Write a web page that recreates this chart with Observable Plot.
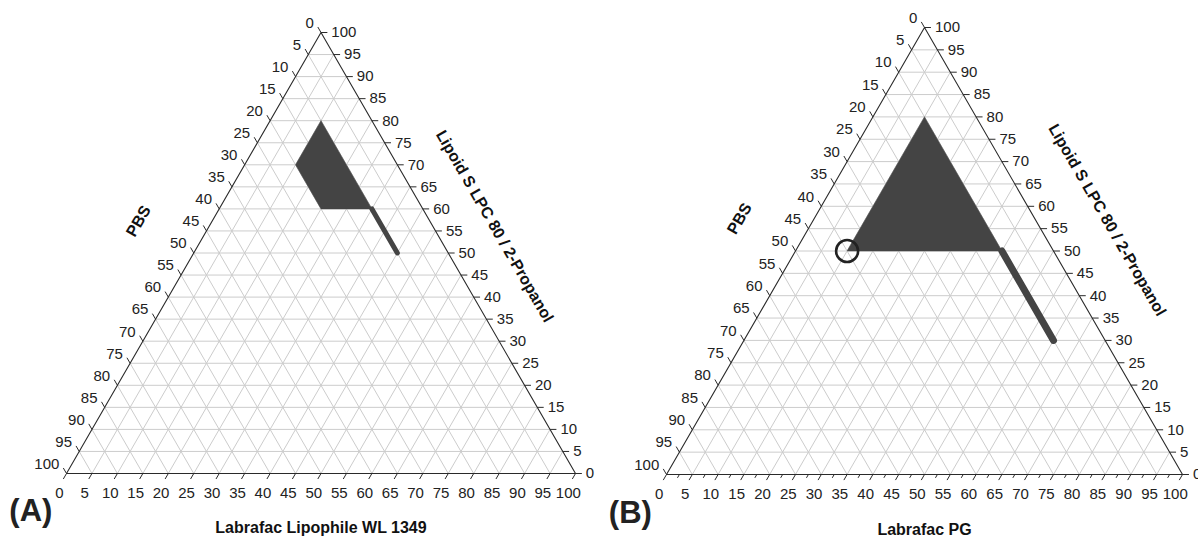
<!DOCTYPE html>
<html><head><meta charset="utf-8">
<script src="https://cdn.jsdelivr.net/npm/d3@7"></script>
<script src="https://cdn.jsdelivr.net/npm/@observablehq/plot@0.6"></script>
<style>
body{margin:0;background:#fff}
#wrap{display:flex;width:1198px;height:537px;overflow:hidden}
</style>
</head><body><div id="wrap"></div>
<script>
// ---- data ----
const tickValues = [0,5,10,15,20,25,30,35,40,45,50,55,60,65,70,75,80,85,90,95,100];
const gridSteps = [5,10,15,20,25,30,35,40,45,50,55,60,65,70,75,80,85,90,95];
const minorTicksB = [2.5,7.5,12.5,17.5,22.5,27.5,32.5,37.5,42.5,47.5,52.5,57.5,62.5,67.5,72.5,77.5,82.5,87.5,92.5,97.5];
const panelLabels = ["(A)", "(B)"];
const bottomTitles = ["Labrafac Lipophile WL 1349", "Labrafac PG"];
const leftTitle = "PBS";
const rightTitle = "Lipoid S LPC 80 / 2-Propanol";

// Panel A: region (oil %, PBS %, Smix %)
const regionAOil  = [10, 30, 20, 10];
const regionAPbs  = [10, 10, 20, 20];
const regionASmix = [80, 60, 60, 70];
const lineAOil  = [30, 40];
const lineAPbs  = [10, 10];
const lineASmix = [60, 50];

// Panel B
const regionBOil  = [10, 40, 10];
const regionBPbs  = [10, 10, 40];
const regionBSmix = [80, 50, 50];
const lineBOil  = [40, 60];
const lineBPbs  = [10, 10];
const lineBSmix = [50, 30];
const circleBOil = [10], circleBPbs = [40], circleBSmix = [50];

// ---- ternary projection ----
const S3 = Math.sqrt(3) / 2;
const tx = (o, w, s) => o + s / 2;
const ty = (o, w, s) => s * S3;
const toPts = (O, W, S) => O.map((o, i) => ({x: tx(o, W[i], S[i]), y: ty(o, W[i], S[i])}));

const FONT = "'Liberation Sans', Arial, Helvetica, sans-serif";

function panel(cfg) {
  const L = 1.25;
  const grid = [];
  for (const k of gridSteps) {
    grid.push({x1: tx(0, 100 - k, k), y1: ty(0, 100 - k, k), x2: tx(100 - k, 0, k), y2: ty(100 - k, 0, k)});
    grid.push({x1: tx(k, 100 - k, 0), y1: 0, x2: tx(k, 0, 100 - k), y2: ty(k, 0, 100 - k)});
    grid.push({x1: tx(100 - k, k, 0), y1: 0, x2: tx(0, k, 100 - k), y2: ty(0, k, 100 - k)});
  }
  const frame = toPts([0, 100, 0, 0], [100, 0, 0, 100], [0, 0, 100, 0]);
  const bottom = tickValues.map(v => ({v, x: tx(v, 100 - v, 0), y: 0}))
    .map(d => ({...d, xe: d.x - 0.5 * L, ye: d.y - S3 * L}));
  const minor = (cfg.minor || []).map(v => ({x: tx(v, 100 - v, 0), y: 0}))
    .map(d => ({...d, xe: d.x - 0.5 * L * 0.6, ye: d.y - S3 * L * 0.6}));
  const left = tickValues.map(v => ({v, x: tx(0, v, 100 - v), y: ty(0, v, 100 - v)}))
    .map(d => ({...d, xe: d.x - 0.5 * L, ye: d.y + S3 * L}));
  const right = tickValues.map(v => ({v, x: tx(100 - v, 0, v), y: ty(100 - v, 0, v)}))
    .map(d => ({...d, xe: d.x + L, ye: d.y}));

  const dl = 12.5, dr = cfg.dr;
  const marks = [
    Plot.link(grid, {x1: "x1", y1: "y1", x2: "x2", y2: "y2", stroke: "#cccccc", strokeWidth: 1}),
    Plot.line(cfg.region.concat([cfg.region[0]]), {x: "x", y: "y", fill: "#444444", stroke: "#444444", strokeWidth: 0.5}),
    Plot.line(cfg.line, {x: "x", y: "y", stroke: "#444444", strokeWidth: cfg.lw, strokeLinecap: "round"}),
    Plot.line(frame, {x: "x", y: "y", stroke: "#2a2a2a", strokeWidth: 1.1}),
    Plot.link(bottom, {x1: "x", y1: "y", x2: "xe", y2: "ye", stroke: "#2a2a2a", strokeWidth: 1}),
    Plot.link(minor, {x1: "x", y1: "y", x2: "xe", y2: "ye", stroke: "#2a2a2a", strokeWidth: 1}),
    Plot.link(left, {x1: "x", y1: "y", x2: "xe", y2: "ye", stroke: "#2a2a2a", strokeWidth: 1}),
    Plot.link(right, {x1: "x", y1: "y", x2: "xe", y2: "ye", stroke: "#2a2a2a", strokeWidth: 1}),
    Plot.text(bottom, {x: "xe", y: "ye", text: d => String(d.v), dx: -4, dy: 14.5, fontSize: 15, fill: "#222"}),
    Plot.text(left, {x: "xe", y: "ye", text: d => String(d.v), dx: -4, dy: -4, textAnchor: "end", fontSize: 15, fill: "#222"}),
    Plot.text(right, {x: "xe", y: "ye", text: d => String(d.v), dx: 4, dy: 0, textAnchor: "start", fontSize: 15, fill: "#222"}),
    Plot.text([leftTitle], {x: () => 25 - S3 * dl, y: () => 50 * S3 + 0.5 * dl, text: d => d, rotate: -60, fontSize: 16, fontWeight: "bold", fill: "#111"}),
    Plot.text([rightTitle], {x: () => 75 + S3 * dr, y: () => 50 * S3 + 0.5 * dr, text: d => d, rotate: 60, fontSize: 16, fontWeight: "bold", fill: "#111"}),
    Plot.text([cfg.bottomTitle], {x: () => 50, y: () => -10.7, text: d => d, fontSize: 16, fontWeight: "bold", fill: "#111"}),
    Plot.text([cfg.label], {x: () => -7.0, y: () => -7.4, text: d => d, fontSize: 31, fontWeight: "bold", fill: "#222"})
  ];
  if (cfg.circle) marks.push(Plot.dot(cfg.circle, {x: "x", y: "y", r: 11, stroke: "#222", strokeWidth: 2.6, fill: "none"}));

  return Plot.plot({
    width: 599, height: 537,
    x: {domain: [0, 100], range: cfg.xr, axis: null},
    y: {domain: [0, 100 * S3], range: cfg.yr, axis: null},
    style: {fontFamily: FONT, background: "white", overflow: "visible"},
    marks
  });
}

const wrap = document.getElementById("wrap");
wrap.appendChild(panel({
  xr: [66, 575], yr: [473, 32], dr: 10.5,
  region: toPts(regionAOil, regionAPbs, regionASmix),
  line: toPts(lineAOil, lineAPbs, lineASmix), lw: 5,
  bottomTitle: bottomTitles[0], label: panelLabels[0]
}));
wrap.appendChild(panel({
  xr: [67, 583], yr: [474, 27], dr: 12,
  region: toPts(regionBOil, regionBPbs, regionBSmix),
  line: toPts(lineBOil, lineBPbs, lineBSmix), lw: 7,
  circle: toPts(circleBOil, circleBPbs, circleBSmix),
  minor: minorTicksB,
  bottomTitle: bottomTitles[1], label: panelLabels[1]
}));
</script>
</body></html>
